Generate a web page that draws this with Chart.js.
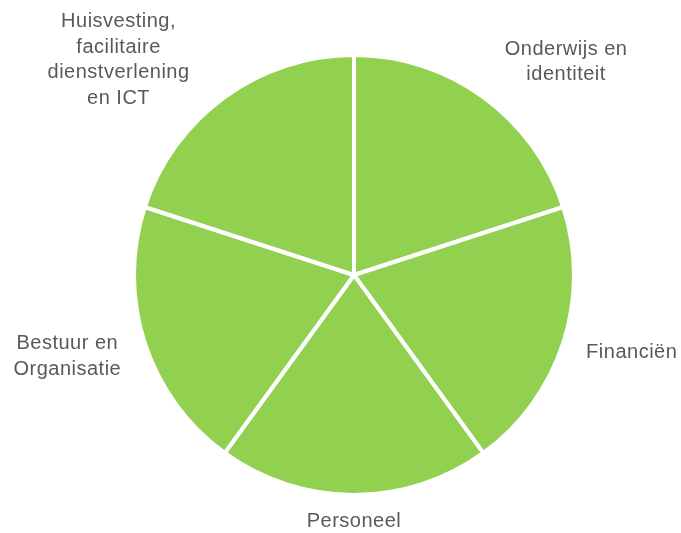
<!DOCTYPE html>
<html>
<head>
<meta charset="utf-8">
<script src="https://cdn.jsdelivr.net/npm/chart.js@4"></script>
<style>
  html, body { margin: 0; padding: 0; background: #ffffff; }
  #wrap { width: 681px; height: 533px; position: relative; }
</style>
</head>
<body>
<div id="wrap"><canvas id="c" width="681" height="533"></canvas></div>
<script>
const categories = [
  ["Onderwijs en", "identiteit"],
  ["Financiën"],
  ["Personeel"],
  ["Bestuur en", "Organisatie"],
  ["Huisvesting,", "facilitaire", "dienstverlening", "en ICT"]
];
const values = [1, 1, 1, 1, 1];

// label placement relative to pie center, in units of the pie radius
const labelOffsets = [
  [0.973, -0.977],
  [1.274, 0.356],
  [0.0, 1.132],
  [-1.315, 0.374],
  [-1.08, -0.986]
];

const outsideLabels = {
  id: 'outsideLabels',
  afterDraw(chart) {
    const ctx = chart.ctx;
    const meta = chart.getDatasetMeta(0);
    const arc = meta.data[0];
    const cx = arc.x, cy = arc.y, r = arc.outerRadius - 2;
    ctx.save();
    ctx.fillStyle = '#595959';
    ctx.font = '20px "Liberation Sans", Arial, sans-serif';
    ctx.letterSpacing = '0.5px';
    ctx.textAlign = 'center';
    ctx.textBaseline = 'middle';
    const lh = 25.7;
    chart.data.labels.forEach((lines, i) => {
      const x = cx + labelOffsets[i][0] * r;
      const y = cy + labelOffsets[i][1] * r;
      const n = lines.length;
      lines.forEach((t, j) => {
        ctx.fillText(t, x, y + (j - (n - 1) / 2) * lh);
      });
    });
    ctx.restore();
  }
};

new Chart(document.getElementById('c'), {
  type: 'pie',
  data: {
    labels: categories,
    datasets: [{
      data: values,
      backgroundColor: '#92D050',
      borderColor: '#ffffff',
      borderWidth: 4
    }]
  },
  options: {
    responsive: false,
    animation: false,
    layout: { padding: { left: 132, right: 105, top: 53, bottom: 36 } },
    plugins: { legend: { display: false }, tooltip: { enabled: false } }
  },
  plugins: [outsideLabels]
});
</script>
</body>
</html>
